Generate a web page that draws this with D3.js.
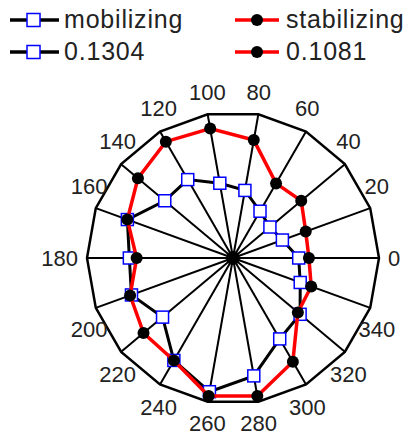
<!DOCTYPE html>
<html lang="en">
<head>
<meta charset="utf-8">
<title>mobilizing vs stabilizing</title>
<script src="https://d3js.org/d3.v7.min.js"></script>
<style>
  body { margin: 0; background: #fff; }
  text { font-family: "Liberation Sans", Arial, sans-serif; fill: #222; }
</style>
</head>
<body>
<svg id="chart"></svg>
<script>
  // angles in degrees, counter-clockwise from the right
  const angles = [0, 20, 40, 60, 80, 100, 120, 140, 160, 180, 200, 220, 240, 260, 280, 300, 320, 340];
  // radial values as fraction of the outer ring
  const mobilizing = [0.45, 0.36, 0.33, 0.37, 0.47, 0.52, 0.62, 0.61, 0.77, 0.71, 0.74, 0.63, 0.81, 0.93, 0.82, 0.64, 0.60, 0.49];
  const stabilizing = [0.52, 0.53, 0.61, 0.59, 0.82, 0.90, 0.92, 0.85, 0.77, 0.66, 0.75, 0.80, 0.81, 0.96, 0.96, 0.82, 0.58, 0.57];
  const legendRows = [["mobilizing", "stabilizing"], ["0.1304", "0.1081"]];

  const W = 411, H = 439;
  const cx = 233, cy = 258, R = 146;

  const svg = d3.select("#chart").attr("width", W).attr("height", H);

  const r = d3.scaleLinear().domain([0, 1]).range([0, R]);
  const rad = d => d * Math.PI / 180;
  const px = (a, v) => cx + r(v) * Math.cos(rad(a));
  const py = (a, v) => cy - r(v) * Math.sin(rad(a));

  const g = svg.append("g");

  // spokes
  g.selectAll("line.spoke").data(angles).enter().append("line")
    .attr("class", "spoke")
    .attr("x1", cx).attr("y1", cy)
    .attr("x2", d => px(d, 1)).attr("y2", d => py(d, 1))
    .attr("stroke", "#000").attr("stroke-width", 2);

  // outer polygon
  const ring = d3.line().curve(d3.curveLinearClosed);
  g.append("path")
    .attr("d", ring(angles.map(a => [px(a, 1), py(a, 1)])))
    .attr("fill", "none").attr("stroke", "#000").attr("stroke-width", 2.5);

  g.append("circle").attr("cx", cx).attr("cy", cy).attr("r", 7).attr("fill", "#000");

  // angle labels, pushed a little away from the horizontal axis
  g.selectAll("text.lab").data(angles).enter().append("text")
    .attr("class", "lab")
    .attr("text-anchor", "middle")
    .attr("dominant-baseline", "central")
    .style("font-size", "22px")
    .text(d => d)
    .each(function(d) {
      const s = Math.sin(rad(d));
      const a2 = d + 7 * Math.cos(rad(d)) * Math.sign(Math.abs(s) < 1e-6 ? 0 : s);
      const w = this.getComputedTextLength();
      const s2 = Math.abs(Math.sin(rad(a2)));
      const dist = 155 + 13 * s2 + (s2 < 0.01 ? w / 2 : 0);
      d3.select(this)
        .attr("x", cx + dist * Math.cos(rad(a2)))
        .attr("y", cy - dist * Math.sin(rad(a2)));
    });

  const pts = vals => angles.map((a, i) => [px(a, vals[i]), py(a, vals[i])]);

  // mobilizing
  g.append("path").attr("d", ring(pts(mobilizing)))
    .attr("fill", "none").attr("stroke", "#000").attr("stroke-width", 3);
  g.selectAll("rect.mob").data(pts(mobilizing)).enter().append("rect")
    .attr("class", "mob")
    .attr("x", d => d[0] - 6).attr("y", d => d[1] - 6)
    .attr("width", 12).attr("height", 12)
    .attr("fill", "#fff").attr("stroke", "#0000ff").attr("stroke-width", 1.5);

  // stabilizing
  g.append("path").attr("d", ring(pts(stabilizing)))
    .attr("fill", "none").attr("stroke", "#ff0000").attr("stroke-width", 3.5);
  g.selectAll("circle.stab").data(pts(stabilizing)).enter().append("circle")
    .attr("class", "stab")
    .attr("cx", d => d[0]).attr("cy", d => d[1]).attr("r", 6)
    .attr("fill", "#000");

  // legend
  const leg = svg.append("g");
  legendRows.forEach((row, i) => {
    const y = 20 + i * 32;
    leg.append("line").attr("x1", 10).attr("x2", 59).attr("y1", y).attr("y2", y)
      .attr("stroke", "#000").attr("stroke-width", 3.5);
    leg.append("rect").attr("x", 27).attr("y", y - 6.5).attr("width", 13).attr("height", 13)
      .attr("fill", "#fff").attr("stroke", "#0000ff").attr("stroke-width", 1.5);
    leg.append("text").attr("x", 64).attr("y", y + 8)
      .style("font-size", "25px").style("letter-spacing", "0.8px").text(row[0]);
    leg.append("line").attr("x1", 235).attr("x2", 279).attr("y1", y).attr("y2", y)
      .attr("stroke", "#ff0000").attr("stroke-width", 3.5);
    leg.append("circle").attr("cx", 257).attr("cy", y).attr("r", 6).attr("fill", "#000");
    leg.append("text").attr("x", 286).attr("y", y + 8)
      .style("font-size", "25px").style("letter-spacing", "0.8px").text(row[1]);
  });
</script>
</body>
</html>
